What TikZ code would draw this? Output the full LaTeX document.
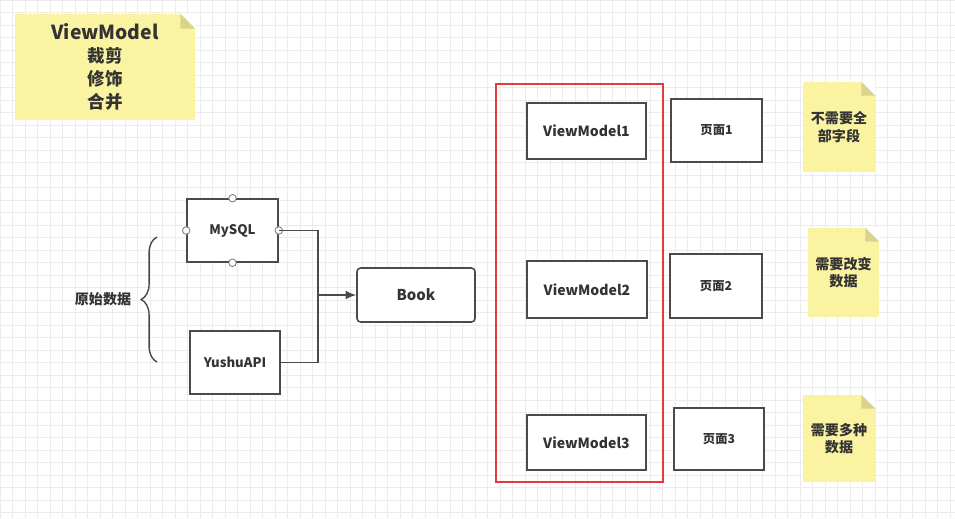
\documentclass[tikz,border=0pt]{standalone}
\usepackage{fontspec}
\setmainfont{Noto Sans CJK SC}
\usepackage{tikz}
\usetikzlibrary{arrows.meta,decorations.pathreplacing}

\definecolor{memofill}{HTML}{FAF3A2}
\definecolor{memofold}{HTML}{D9D38E}
\definecolor{boxline}{HTML}{4A4A4A}
\definecolor{redline}{HTML}{E53A3C}
\definecolor{inktext}{HTML}{333333}

\tikzset{
  box/.style={draw=boxline, line width=0.9pt, fill=white, text=inktext,
    font=\bfseries\fontsize{8}{9}\selectfont, inner sep=0pt},
  page/.style={box, font=\bfseries\fontsize{7}{8}\selectfont},
  memo/.style={fill=memofill, text=inktext, align=center, inner sep=0pt,
    font=\bfseries\fontsize{8}{10}\selectfont},
  port/.style={circle, draw=gray, fill=white, line width=0.5pt, inner sep=0pt, minimum size=0.15cm},
}

\begin{document}
\begin{tikzpicture}[x=0.02cm, y=-0.02cm]
    \useasboundingbox (0,0) rectangle (955,518);
    \fill[white] (0,0) rectangle (955,518);
    % grid
    \foreach \i in {0,12.5,...,955} \draw[gray!15, line width=0.4pt] (\i,0) -- (\i,518);
    \foreach \j in {0,12.5,...,518} \draw[gray!15, line width=0.4pt] (0,\j) -- (955,\j);

    % notes
    \node[memo, minimum width=3.6cm, minimum height=2.12cm, font=\bfseries\fontsize{10}{13}\selectfont] (title) at (105,67)
        {{\fontsize{11}{13}\selectfont ViewModel}\\裁剪\\修饰\\合并};
    \node[memo, minimum width=1.44cm, minimum height=1.8cm] (memoA) at (839,127) {不需要全\\部字段};
    \node[memo, minimum width=1.42cm, minimum height=1.78cm] (memoB) at (843.5,272.5) {需要改变\\数据};
    \node[memo, minimum width=1.44cm, minimum height=1.74cm] (memoC) at (839,438.5) {需要多种\\数据};
    \foreach \n/\f in {title/15, memoA/14, memoB/14, memoC/14} {
        \fill[white] (\n.north east) -- ++(-\f,0) -- ++(\f,\f) -- cycle;
        \fill[memofold] (\n.north east) ++(-\f,0) -- ++(0,\f) -- ++(\f,0) -- cycle;
    }

    % sources
    \node[box, minimum width=1.82cm, minimum height=1.26cm, font=\bfseries\fontsize{7.5}{9}\selectfont] (mysql) at (232.5,230.5) {MySQL};
    \node[box, minimum width=1.8cm, minimum height=1.26cm, font=\bfseries\fontsize{7.5}{9}\selectfont] (yushu) at (235,362.5) {YushuAPI};
    \foreach \s in {north,south,west,east} \node[port] at (mysql.\s) {};

    \coordinate (braceTop) at (157,237);
    \coordinate (braceBot) at (157,362);
    \draw[boxline, line width=0.8pt, decoration={brace, amplitude=9pt}, decorate] (braceBot) -- (braceTop);
    \node[text=inktext, font=\bfseries\fontsize{8}{10}\selectfont] (raw) at (103,299) {原始数据};

    \node[box, rounded corners=2pt, minimum width=2.36cm, minimum height=1.08cm, font=\bfseries\fontsize{8.5}{10}\selectfont] (book) at (416,295) {Book};
    \coordinate (join) at (318,295);
    \draw[boxline, line width=0.9pt] (mysql.east) -| (join);
    \draw[boxline, line width=0.9pt] (yushu.east) -| (join);
    \draw[boxline, line width=0.9pt, -{Latex[length=6pt,width=5pt]}] (join) -- (book.west);

    % view models
    \draw[redline, line width=1.2pt] (496,84) rectangle (663,482);
    \node[box, minimum width=2.38cm, minimum height=1.12cm] (vm1) at (586.5,131) {ViewModel1};
    \node[box, minimum width=2.4cm, minimum height=1.14cm] (vm2) at (587,289.5) {ViewModel2};
    \node[box, minimum width=2.38cm, minimum height=1.1cm] (vm3) at (586.5,442.5) {ViewModel3};

    % pages
    \node[page, minimum width=1.82cm, minimum height=1.26cm] (page1) at (716.5,130.5) {页面1};
    \node[page, minimum width=1.84cm, minimum height=1.28cm] (page2) at (716,286) {页面2};
    \node[page, minimum width=1.8cm, minimum height=1.24cm] (page3) at (719,439) {页面3};
\end{tikzpicture}
\end{document}
